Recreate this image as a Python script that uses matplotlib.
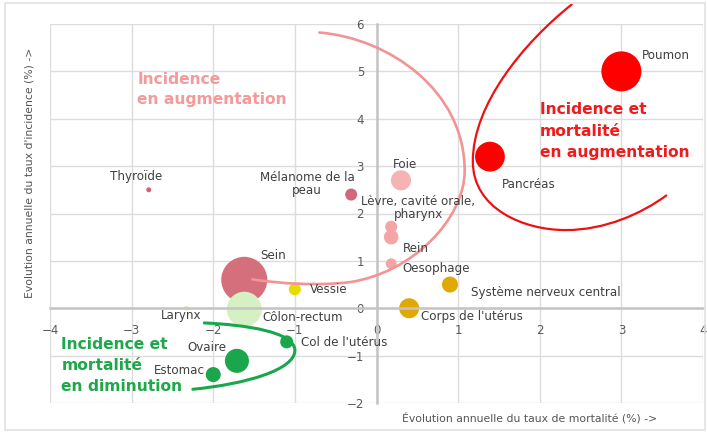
import matplotlib
matplotlib.use('Agg')
import matplotlib.pyplot as plt
from matplotlib.path import Path
from matplotlib.patches import PathPatch, Rectangle

# localisations de cancer : evolution annuelle mortalite (x) / incidence (y), taille = nb de cas
cancers = ['Poumon', 'Pancréas', 'Foie', 'Mélanome de la\npeau', 'Thyroïde',
           'Lèvre, cavité orale,\npharynx', 'Rein', 'Oesophage', 'Sein', 'Vessie',
           'Côlon-rectum', 'Larynx', 'Col de l\'utérus', 'Ovaire', 'Estomac',
           'Système nerveux central', 'Corps de l\'utérus']
mortalite = [3.0, 1.39, 0.3, -0.31, -2.79, 0.18, 0.18, 0.18, -1.62, -1.0,
             -1.62, -2.33, -1.1, -1.71, -2.0, 0.9, 0.4]
incidence = [5.0, 3.2, 2.7, 2.4, 2.5, 1.72, 1.5, 0.94, 0.6, 0.4,
             -0.02, 0.0, -0.71, -1.11, -1.4, 0.5, 0.0]
taille = [830, 460, 210, 75, 13, 75, 110, 60, 1100, 75,
          635, 13, 88, 300, 117, 133, 207]
couleurs = ['#ff0000', '#ff0000', '#f5b3b3', '#d2667a', '#d9606e',
            '#f5a5a5', '#f5a5a5', '#f5a5a5', '#d66f7c', '#e6dc00',
            '#d6f0c4', '#d6f0c4', '#1aa64a', '#1aa64a', '#1aa64a',
            '#e0a800', '#e0a800']

fig = plt.figure(figsize=(7.07, 4.32), dpi=100)
fig.patches.append(Rectangle((0.007, 0.005), 0.99, 0.988, transform=fig.transFigure,
                             fill=False, edgecolor='#e2e2e2', lw=1.2))
ax = fig.add_axes([50 / 707, 29 / 432, 653 / 707, 379 / 432])

ax.set_xlim(-4, 4)
ax.set_ylim(-2, 6)
ax.set_xticks(range(-4, 5))
ax.set_yticks(range(-2, 7))
ax.grid(True, color='#dcdcdc', lw=1)
ax.set_axisbelow(True)

for s in ['top', 'right']:
    ax.spines[s].set_visible(False)
ax.spines['left'].set_position('zero')
ax.spines['bottom'].set_position('zero')
for s in ['left', 'bottom']:
    ax.spines[s].set_color('#c4c4c4')
    ax.spines[s].set_linewidth(1.8)
ax.tick_params(length=0, labelsize=8.5, labelcolor='#595959')
ax.tick_params(axis='x', pad=11)
ax.tick_params(axis='y', pad=9)

ax.scatter(mortalite, incidence, s=taille, c=couleurs, zorder=2, linewidths=0)

# etiquettes des bulles
pos_etiq = [(3.25, 5.34, 'left'), (1.53, 2.62, 'left'), (0.2, 3.04, 'left'),
            (-0.85, 2.62, 'center'), (-2.95, 2.78, 'center'), (0.51, 2.12, 'center'),
            (0.32, 1.27, 'left'), (0.32, 0.84, 'left'), (-1.43, 1.12, 'left'),
            (-0.82, 0.4, 'left'), (-1.40, -0.19, 'left'), (-2.14, -0.15, 'right'),
            (-0.92, -0.72, 'left'), (-1.84, -0.82, 'right'), (-2.10, -1.31, 'right'),
            (1.16, 0.34, 'left'), (0.54, -0.17, 'left')]
for nom, (x, y, ha) in zip(cancers, pos_etiq):
    ax.text(x, y, nom, ha=ha, va='center', fontsize=8.6, color='#404040',
            linespacing=1.0, zorder=4)


def courbe(pts, color, lw):
    codes = [Path.MOVETO] + [Path.CURVE4] * (len(pts) - 1)
    ax.add_patch(PathPatch(Path(pts, codes), fill=False, edgecolor=color, lw=lw,
                           zorder=3, clip_on=False, capstyle='round'))


courbe([(-0.70, 5.82), (0.15, 5.7), (1.08, 4.6), (1.08, 2.9),
        (1.08, 1.9), (0.45, 0.75), (-0.33, 0.55),
        (-0.7, 0.47), (-1.2, 0.52), (-1.52, 0.61)], '#f39393', 1.9)
courbe([(2.39, 6.41), (1.8, 5.6), (1.18, 4.3), (1.18, 3.1),
        (1.18, 2.1), (1.8, 1.65), (2.32, 1.65),
        (2.8, 1.65), (3.25, 2.0), (3.55, 2.38)], '#ee1111', 1.6)
courbe([(-2.11, -0.31), (-1.6, -0.35), (-1.0, -0.5), (-1.0, -0.89),
        (-1.0, -1.3), (-1.6, -1.6), (-2.25, -1.71)], '#1aa64a', 2.2)

ax.text(-2.93, 4.98, 'Incidence\nen augmentation', color='#f49a9a', fontsize=11.2,
        fontweight='bold', va='top', ha='left', linespacing=1.35)
ax.text(2.0, 4.35, 'Incidence et\nmortalité\nen augmentation', color='#ee1c1c',
        fontsize=11.2, fontweight='bold', va='top', ha='left', linespacing=1.55)
ax.text(-3.86, -0.61, 'Incidence et\nmortalité\nen diminution', color='#1ea84a',
        fontsize=11.2, fontweight='bold', va='top', ha='left', zorder=5,
        linespacing=1.5)

fig.text(30 / 707, 1 - 173 / 432, "Evolution annuelle du taux d'incidence (%) ->",
         rotation=90, ha='center', va='center', fontsize=7.8, color='#555555')
fig.text(530 / 707, 1 - 418 / 432, 'Évolution annuelle du taux de mortalité (%) ->',
         ha='center', va='center', fontsize=7.8, color='#555555')

fig.savefig('out.png', dpi=100)
